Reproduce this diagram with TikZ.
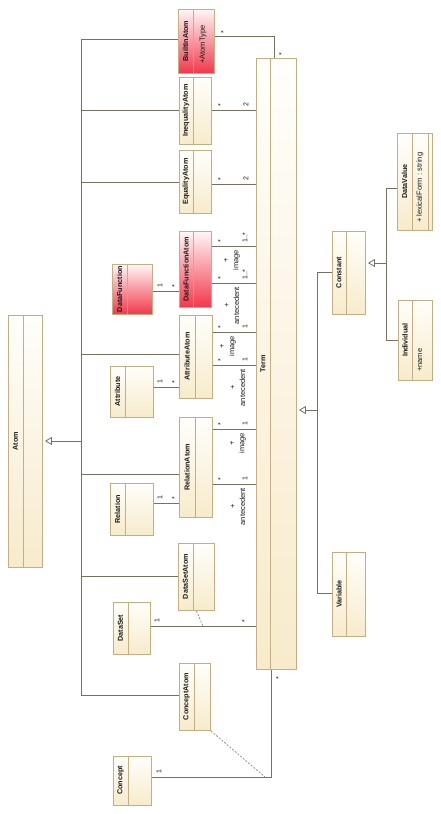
\documentclass[tikz,border=0pt]{standalone}
\usepackage{fontspec}
\setmainfont{Liberation Sans}
\usetikzlibrary{arrows.meta,calc}
\definecolor{bord}{HTML}{C4AE84}
\definecolor{creamB}{HTML}{F7EBCB}
\definecolor{creamT}{HTML}{FFFEFB}
\definecolor{redB}{HTML}{F2374A}
\definecolor{redT}{HTML}{FFF6F6}
\definecolor{lne}{HTML}{7A7062}
\definecolor{txt}{HTML}{1A1A1A}
\tikzset{
  cls/.style={draw=bord, line width=0.9pt, top color=creamT, bottom color=creamB, inner sep=0pt, anchor=north west},
  redcls/.style={cls, top color=redT, bottom color=redB},
  divl/.style={draw=bord, line width=0.9pt},
  cname/.style={rotate=90, font=\bfseries\fontsize{7.2}{8}\selectfont, text=txt, inner sep=0pt},
  attrtxt/.style={rotate=90, font=\fontsize{7.5}{9}\selectfont, text=txt, inner sep=0pt, anchor=west},
  assoc/.style={draw=lne, line width=0.8pt},
  gentip/.style={assoc, -{Triangle[fill=white, length=7pt, width=8pt]}},
  mult/.style={rotate=90, font=\fontsize{7}{8}\selectfont, text=txt, inner sep=0pt, anchor=west},
  role/.style={rotate=90, font=\fontsize{7.5}{10}\selectfont, text=txt, inner sep=0pt, anchor=east, align=center},
  assocdash/.style={draw=lne!85, line width=0.7pt, dash pattern=on 2pt off 1.5pt}
}
\newcommand\mkcls[8]{%
  \node[#7, minimum width={#4pt-#2pt}, minimum height={#5pt-#3pt}] (#1) at (#2,#3) {};
  \draw[divl] (#6,#3) -- (#6,#5);
  \node[cname] at ({(#2+#6)/2},{(#3+#5)/2}) {#8};
}
\begin{document}
\begin{tikzpicture}[x=1pt,y=-1pt]
\useasboundingbox (0,0) rectangle (441,814);

% classes
\mkcls{atom}{8}{315}{42}{567}{23}{cls}{Atom}
\mkcls{builtin}{178}{9}{214}{73}{193}{redcls}{BuiltInAtom}
\mkcls{ineq}{179}{77}{211}{144}{193}{cls}{InequalityAtom}
\mkcls{eq}{179}{150}{211}{213}{193}{cls}{EqualityAtom}
\mkcls{dfa}{179}{231}{211}{307}{193}{redcls}{DataFunctionAtom}
\mkcls{df}{112}{264}{152}{314}{127}{redcls}{DataFunction}
\mkcls{attra}{179}{315}{212}{398}{195}{cls}{AttributeAtom}
\mkcls{attrib}{110}{366}{153}{417}{125}{cls}{Attribute}
\mkcls{rela}{179}{417}{212}{517}{195}{cls}{RelationAtom}
\mkcls{rel}{110}{483}{153}{535}{125}{cls}{Relation}
\mkcls{dsa}{178}{543}{214}{610}{193}{cls}{DataSetAtom}
\mkcls{ds}{113}{602}{150}{654}{128}{cls}{DataSet}
\mkcls{ca}{179}{663}{210}{730}{194}{cls}{ConceptAtom}
\mkcls{concept}{113}{756}{151}{805}{128}{cls}{Concept}
\mkcls{term}{256}{58}{296}{669}{270}{cls}{Term}
\mkcls{const}{332}{231}{365}{314}{346}{cls}{Constant}
\mkcls{var}{332}{552}{365}{636}{346}{cls}{Variable}
\mkcls{dv}{397}{133}{432}{230}{412}{cls}{DataValue}
\mkcls{ind}{398}{300}{432}{380}{412}{cls}{Individual}
\draw[divl] (428,133) -- (428,230);

% attributes
\node[attrtxt] at (203,64) {+AtomType};
\node[attrtxt] at (420,223) {+ lexicalForm : string};
\node[attrtxt] at (420,372) {+name};

% generalization to Atom
\coordinate (bus) at (81,39);
\coordinate (atomtip) at ([xshift=2pt]atom.east);
\draw[assoc] (builtin.west |- bus) -- (bus) -- (bus |- 0,695) -- (ca.west |- 0,695);
\foreach \yy/\nn in {110/ineq,182/eq,354/attra,474/rela,576/dsa}
  \draw[assoc] (bus |- 0,\yy) -- (\nn.west |- 0,\yy);
\draw[gentip] (bus |- 0,441) -- (atomtip |- 0,441);

% generalization to Term
\coordinate (tbus) at (317,272);
\coordinate (termtip) at ([xshift=2pt]term.east);
\draw[assoc] (const.west |- tbus) -- (tbus) -- (tbus |- 0,593) -- (var.west |- 0,593);
\draw[gentip] (tbus |- 0,410) -- (termtip |- 0,410);

% generalization to Constant
\coordinate (cbus) at (386,188);
\coordinate (consttip) at ([xshift=2pt]const.east);
\draw[assoc] (dv.west |- cbus) -- (cbus) -- (cbus |- 0,340) -- (ind.west |- 0,340);
\draw[gentip] (cbus |- 0,263) -- (consttip |- 0,263);

% associations to Term
\coordinate (bt) at (274,36);
\draw[assoc] (builtin.east |- bt) -- (bt) -- (bt |- term.north);
\node[mult] at (223.5,34) {*};
\node[mult] at (281.5,56) {*};

\foreach \yy/\nn/\mm in {110/ineq/2,184/eq/2}{
  \draw[assoc] (\nn.east |- 0,\yy) -- (term.west |- 0,\yy);
  \node[mult] at (220.5,\yy-3) {*};
  \node[mult] at (246,\yy-3) {\mm};
}
\foreach \yy/\nn/\mm in {246/dfa/1..*,283/dfa/1..*,332/attra/1,365/attra/1,429/rela/1,484/rela/1}{
  \draw[assoc] (\nn.east |- 0,\yy) -- (term.west |- 0,\yy);
  \node[mult] at (220.5,\yy-3) {*};
  \node[mult] at (245,\yy-3) {\mm};
}
\node[role] at (232,250) {+\\image};
\node[role] at (232,287) {+\\antecedent};
\node[role] at (228,336) {+\\image};
\node[role] at (238,369) {+\\antecedent};
\node[role] at (238,433) {+\\image};
\node[role] at (238,488) {+\\antecedent};

% links to descriptor classes
\foreach \yy/\aa/\bb in {291/df/dfa,387/attrib/attra,503/rel/rela}{
  \draw[assoc] (\aa.east |- 0,\yy) -- (\bb.west |- 0,\yy);
  \node[mult] at (160,\yy-3) {1};
  \node[mult] at (174.5,\yy-3) {*};
}

% DataSet
\coordinate (dsj) at (203,626);
\draw[assoc] (ds.east |- dsj) -- (term.west |- dsj);
\draw[assocdash] (dsa.south) -- (dsj);
\node[mult] at (157,623) {1};
\node[mult] at (244.5,623) {*};

% Concept
\coordinate (ck) at (271,777);
\coordinate (cj) at (265,777);
\draw[assoc] (concept.east |- ck) -- (ck) -- (ck |- term.south);
\draw[assocdash] (ca.south east) -- (cj);
\node[mult] at (159,774) {1};
\node[mult] at (278.5,680) {*};
\end{tikzpicture}
\end{document}
